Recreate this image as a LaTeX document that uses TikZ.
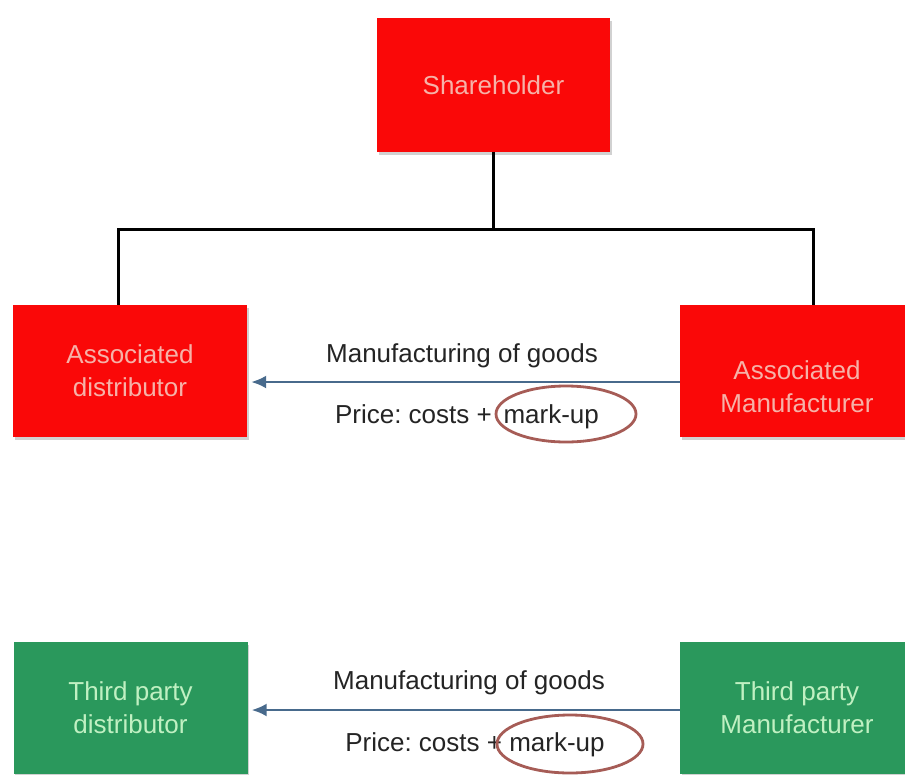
\documentclass[tikz,border=0pt]{standalone}
\usepackage{fontspec}
\setmainfont{Liberation Sans}
\usetikzlibrary{arrows.meta,shapes.geometric,shadows}
\frenchspacing

\definecolor{boxred}{RGB}{250,8,8}
\definecolor{boxgreen}{RGB}{42,152,92}
\definecolor{txtpink}{RGB}{246,178,168}
\definecolor{txtgreen}{RGB}{192,240,194}
\definecolor{flowblue}{RGB}{72,106,140}
\definecolor{ringred}{RGB}{166,92,86}
\definecolor{inkgrey}{RGB}{36,36,36}

\begin{document}
\begin{tikzpicture}[x=1pt,y=-1pt,
  entity/.style={rectangle, minimum width=234pt, minimum height=132pt,
    inner sep=0pt, align=center, font=\fontsize{26}{33}\selectfont,
    drop shadow={shadow xshift=1.5pt, shadow yshift=-3pt, opacity=0.3, fill=black!60}},
  related/.style={entity, fill=boxred, text=txtpink},
  thirdparty/.style={entity, fill=boxgreen, text=txtgreen},
  boxtext/.style={align=center, inner sep=0pt, font=\fontsize{26}{33}\selectfont},
  owner/.style={draw=black, line width=3pt},
  flow/.style={draw=flowblue, line width=2.4pt, -{Latex[length=15pt,width=13pt]}},
  flowtext/.style={anchor=base, inner sep=0pt, text=inkgrey, font=\fontsize{26}{30}\selectfont},
  ring/.style={ellipse, draw=ringred, line width=2.8pt, inner sep=0pt}]

\useasboundingbox (0,0) rectangle (905,774);
\clip (0,0) rectangle (905,774);

% ownership tree
\node[related, minimum width=233pt, minimum height=134pt] (share) at (493.5,85) {Shareholder};
\node[related] (adist) at (130,371) {Associated\\distributor};
\node[related] (amanu) at (797,371) {};
\node[boxtext, text=txtpink] (amanutext) at (797,387) {Associated\\Manufacturer};

\coordinate (jm) at (493.5,229);
\coordinate (jl) at (118,229);
\coordinate (jr) at (813,229);
\draw[owner] (share.south) -- (jm);
\draw[owner, line cap=rect] (jl) -- (jr);
\draw[owner] (jl) -- (jl |- adist.north);
\draw[owner] (jr) -- (jr |- amanu.north);

% related-party supply
\draw[flow] ([yshift=-11pt]amanu.west) -- ([xshift=4pt,yshift=-11pt]adist.east);
\node[flowtext] (mfgA) at (462,362) {Manufacturing of goods};
\node[flowtext] (priceA) at (467,423) {Price: costs +\hspace{0.45em}mark-up};
\node[ring, minimum width=140pt, minimum height=56pt] (ringA) at (566,414) {};

% third-party supply
\node[thirdparty] (tdist) at (130.5,708) {Third party\\distributor};
\node[thirdparty] (tmanu) at (797,708) {Third party\\Manufacturer};

\draw[flow] ([yshift=-2pt]tmanu.west) -- ([xshift=4pt,yshift=-2pt]tdist.east);
\node[flowtext] (mfgB) at (469,689) {Manufacturing of goods};
\node[flowtext] (priceB) at (475,751) {Price: costs + mark-up};
\node[ring, minimum width=146pt, minimum height=58pt] (ringB) at (570,744) {};

\end{tikzpicture}
\end{document}
